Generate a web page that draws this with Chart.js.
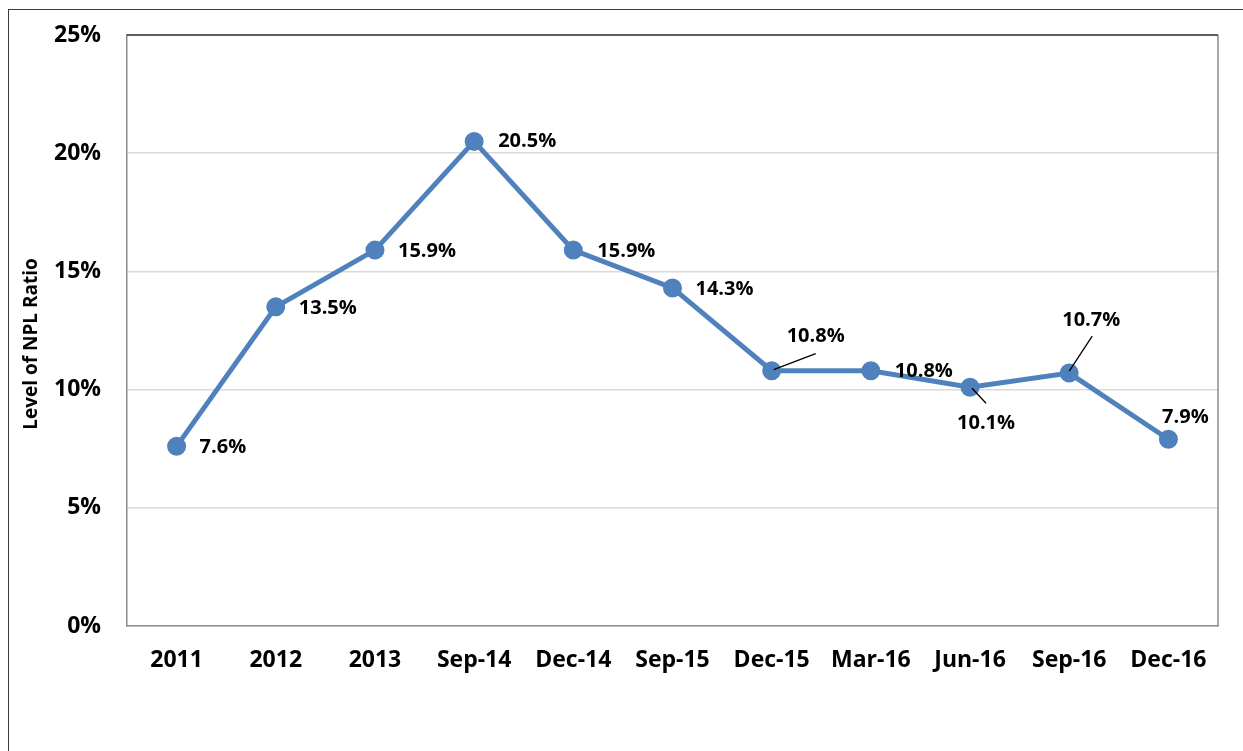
<!DOCTYPE html>
<html>
<head>
<meta charset="utf-8">
<script src="https://cdn.jsdelivr.net/npm/chart.js@4.4.1/dist/chart.umd.min.js"></script>
<style>
  html, body { margin: 0; padding: 0; background: #ffffff; overflow: hidden; }
  #frame { position: absolute; left: 8px; top: 9px; width: 1400px; height: 900px; border-left: 1px solid #3a3a3a; border-top: 1px solid #3a3a3a; }
  #wrap { position: absolute; left: 0; top: 0; width: 1243px; height: 751px; }
</style>
</head>
<body>
<div id="frame"></div>
<div id="wrap"><canvas id="c" width="1243" height="751"></canvas></div>
<script>
const categories = ['2011', '2012', '2013', 'Sep-14', 'Dec-14', 'Sep-15', 'Dec-15', 'Mar-16', 'Jun-16', 'Sep-16', 'Dec-16'];
const nplRatio = [7.6, 13.5, 15.9, 20.5, 15.9, 14.3, 10.8, 10.8, 10.1, 10.7, 7.9];
const valueLabels = ['7.6%', '13.5%', '15.9%', '20.5%', '15.9%', '14.3%', '10.8%', '10.8%', '10.1%', '10.7%', '7.9%'];
const yTicks = [0, 5, 10, 15, 20, 25];
const yAxisTitle = 'Level of NPL Ratio';

// label placement relative to point (pixels): [dx, dy, align, leaderLine]
const labelPlacement = [
  [23, 1, 'left', null],
  [23, 1, 'left', null],
  [23, 1, 'left', null],
  [24, 0, 'left', null],
  [24, 1, 'left', null],
  [23, 1, 'left', null],
  [44, -34, 'center', [2, -1, 44, -17]],
  [24, 1, 'left', null],
  [16, 36, 'center', [2, 1, 16, 16]],
  [22, -53, 'center', [0, -2, 23, -37]],
  [17, -22, 'center', null]
];

const FONT = '"Open Sans", Lato, "DejaVu Sans", sans-serif';

const plotFrame = {
  id: 'plotFrame',
  beforeDatasetsDraw(chart) {
    const { ctx, chartArea: a } = chart;
    ctx.save();
    ctx.lineWidth = 1.5;
    ctx.strokeStyle = '#8c8c8c';
    ctx.beginPath();
    ctx.moveTo(a.right, a.top);
    ctx.lineTo(a.right, a.bottom);
    ctx.stroke();
    ctx.strokeStyle = '#303030';
    ctx.beginPath();
    ctx.moveTo(a.left, a.top);
    ctx.lineTo(a.right, a.top);
    ctx.stroke();
    // axis title
    ctx.translate(32, 344);
    ctx.rotate(-Math.PI / 2);
    ctx.font = 'bold 19px ' + FONT;
    ctx.fillStyle = '#000000';
    ctx.textAlign = 'center';
    ctx.textBaseline = 'middle';
    ctx.fillText(yAxisTitle, 0, 0);
    ctx.restore();
  }
};

const valueLabelPlugin = {
  id: 'valueLabels',
  afterDatasetsDraw(chart) {
    const { ctx } = chart;
    const meta = chart.getDatasetMeta(0);
    ctx.save();
    ctx.font = 'bold 20px ' + FONT;
    ctx.fillStyle = '#000000';
    ctx.textBaseline = 'middle';
    meta.data.forEach((pt, i) => {
      const [dx, dy, align, leader] = labelPlacement[i];
      if (leader) {
        ctx.strokeStyle = '#000000';
        ctx.lineWidth = 1.3;
        ctx.beginPath();
        ctx.moveTo(pt.x + leader[0], pt.y + leader[1]);
        ctx.lineTo(pt.x + leader[2], pt.y + leader[3]);
        ctx.stroke();
      }
      ctx.textAlign = align;
      ctx.fillText(valueLabels[i], pt.x + dx, pt.y + dy);
    });
    ctx.restore();
  }
};

new Chart(document.getElementById('c'), {
  type: 'line',
  data: {
    labels: categories,
    datasets: [{
      data: nplRatio,
      borderColor: '#4F81BD',
      backgroundColor: '#4F81BD',
      borderWidth: 5,
      pointRadius: 7,
      pointHoverRadius: 7,
      pointBackgroundColor: '#4F81BD',
      pointBorderColor: '#4F81BD',
      tension: 0,
      fill: false
    }]
  },
  options: {
    responsive: false,
    animation: false,
    events: [],
    layout: { padding: { left: 0, top: 35, right: 25, bottom: 0 } },
    plugins: {
      legend: { display: false },
      tooltip: { enabled: false }
    },
    scales: {
      x: {
        type: 'category',
        offset: true,
        grid: { display: false, drawTicks: false },
        border: { display: true, color: '#8c8c8c', width: 1.5 },
        ticks: {
          color: '#000000',
          font: { family: FONT, size: 23, weight: 'bold' },
          padding: 21,
          maxRotation: 0,
          autoSkip: false
        },
        afterFit(scale) { scale.height = 125; scale.paddingLeft = 0; scale.paddingRight = 0; }
      },
      y: {
        min: 0,
        max: 25,
        afterBuildTicks(scale) { scale.ticks = yTicks.map(v => ({ value: v })); },
        grid: { color: '#d9d9d9', lineWidth: 1.5, drawTicks: false },
        border: { display: true, color: '#8c8c8c', width: 1.5 },
        ticks: {
          color: '#000000',
          font: { family: FONT, size: 23, weight: 'bold' },
          padding: 26,
          callback: v => v + '%'
        },
        afterFit(scale) { scale.width = 127; scale.paddingTop = 0; scale.paddingBottom = 0; }
      }
    }
  },
  plugins: [plotFrame, valueLabelPlugin]
});
</script>
</body>
</html>
